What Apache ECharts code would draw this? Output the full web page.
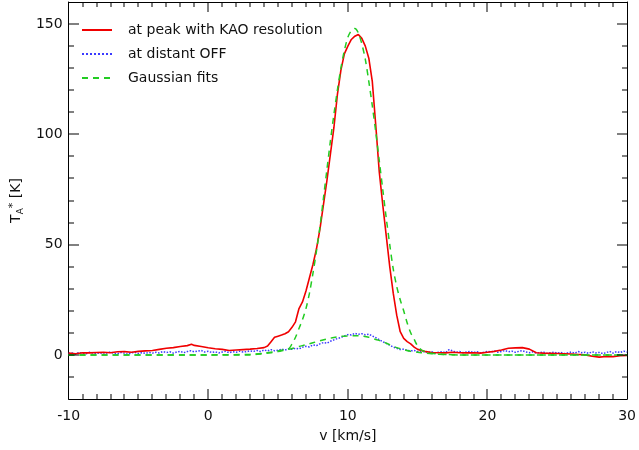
<!DOCTYPE html>
<html>
<head>
<meta charset="utf-8">
<script src="https://cdn.jsdelivr.net/npm/echarts@6/dist/echarts.min.js"></script>
<style>
  html, body { margin: 0; padding: 0; background: #fff; }
  #main { width: 639px; height: 450px; }
</style>
</head>
<body>
<div id="main"></div>
<script>
// spectrum at peak (KAO resolution)
var redV = [-10,-9.5,-9,-8.5,-8,-7.5,-7,-6.5,-6,-5.5,-5,-4.5,-4,-3.5,-3,-2.5,-2,-1.5,-1.2,-1,-0.5,0,0.5,1,1.5,2,2.5,3,3.5,4,4.25,4.5,4.75,5,5.25,5.5,5.75,6,6.25,6.5,6.75,7,7.25,7.5,7.75,8,8.25,8.5,8.75,9,9.25,9.5,9.75,10,10.25,10.5,10.75,11,11.25,11.5,11.75,12,12.25,12.5,12.75,13,13.25,13.5,13.75,14,14.25,14.5,14.75,15,15.5,16,16.5,17,17.5,18,18.5,19,19.5,20,20.5,21,21.5,22,22.5,23,23.5,24,24.5,25,25.5,26,26.5,27,27.5,28,28.5,29,29.5,30];
var redT = [0.8,0.5,1.0,0.9,1.1,1.2,1.0,1.4,1.5,1.2,1.6,1.8,2.0,2.5,3.0,3.3,3.8,4.2,4.8,4.3,3.8,3.2,2.8,2.5,2.0,2.2,2.4,2.6,2.9,3.3,4.0,6.0,8.0,8.5,9.0,9.6,10.5,12.5,15,21,24,29,35,41,48,57,68,79,91,103,118,129,136.5,140,143,144.5,145.3,143.5,140,134.5,124,104,83,68,54,40,28,18,10.5,7.5,6,5,3.5,2.5,1.6,1.1,1.0,0.9,1.2,1.0,0.9,1.0,0.8,1.2,1.6,2.2,3.0,3.2,3.3,2.6,1.0,0.8,0.7,0.6,0.5,0.4,0.2,0,-0.6,-1.0,-0.7,-0.8,-0.4,-0.3];

// distant OFF spectrum, channels every 0.25 km/s from -10
var offStart = -10, offStep = 0.25;
var offT = [0.6,0.9,0.4,1.1,0.7,0.5,1.2,0.8,0.6,1.0,0.4,0.9,1.3,0.7,0.5,1.1,0.8,0.3,0.9,1.2,0.6,1.0,0.7,1.1,0.8,
  1.2,0.9,1.5,1.1,1.4,0.8,1.3,1.6,1.0,1.5,1.9,1.4,1.7,2.0,1.3,1.6,1.1,1.4,0.9,1.3,1.6,1.0,1.4,1.2,1.7,1.3,1.5,1.8,
  1.6,2.0,1.5,2.2,1.8,2.4,1.9,2.1,2.6,2.2,2.8,2.5,
  3.0,2.7,3.5,3.9,3.6,4.5,4.2,5.0,5.6,5.3,6.2,6.8,
  7.4,7.9,8.6,9.2,9.0,9.8,9.3,9.6,9.1,9.4,8.6,7.8,
  6.9,6.0,5.2,4.4,3.5,3.0,2.4,2.6,2.1,1.8,2.0,1.5,
  1.3,1.6,1.1,1.4,0.9,1.2,1.5,1.0,2.4,1.8,1.2,1.5,1.0,1.3,1.6,1.1,1.4,0.9,1.2,1.6,
  1.3,1.8,1.2,1.5,2.0,1.4,1.7,1.2,1.6,1.9,1.3,1.0,1.4,0.8,1.1,1.3,0.7,1.0,1.2,0.8,
  1.1,0.6,0.9,1.3,0.8,1.5,1.0,1.2,0.7,1.4,0.9,1.1,0.6,1.0,1.6,0.8,1.5,1.1,1.7,1.3];

// gaussian fit to the peak spectrum
var fitPeakV = [-10,0,3,4,5,5.5,5.8,6,6.25,6.5,6.75,7,7.25,7.5,7.75,8,8.25,8.5,8.75,9,9.25,9.5,9.75,10,10.25,10.5,10.75,11,11.25,11.5,11.75,12,12.25,12.5,12.75,13,13.25,13.5,13.75,14,14.25,14.5,14.75,15,15.25,15.5,16,17,18,30];
var fitPeakT = [0,0,0.3,0.8,1.8,2.5,3,5,8,12,16,21,28,37,47,58,71,84,97,109,120,130,138,144,147,148,146,141,134,124,113,101,88,75,62,50,39,31,25,20,14.5,10,7,4,2.3,1.5,0.7,0.2,0,0];

// gaussian fit to the OFF spectrum
var fitOffV = [-10,0,3,3.5,4,4.5,5,5.5,6,6.5,7,7.5,8,8.5,9,9.5,10,10.5,11,11.5,12,12.5,13,13.5,14,14.5,15,15.5,16,17,18,30];
var fitOffT = [0,0,0,0.3,0.6,1.0,1.5,2.2,2.9,3.8,4.6,5.5,6.4,7.2,7.9,8.4,8.6,8.7,8.5,8.0,7.0,6.0,4.6,3.3,2.4,1.6,1.2,0.8,0.5,0.2,0,0];

var xTicks = [-10, 0, 10, 20, 30];
var yTicks = [0, 50, 100, 150];
var yTickVals = [-10, 0, 10, 20, 30, 40, 50, 60, 70, 80, 90, 100, 110, 120, 130, 140, 150];
var xTickVals = [-9,-8,-7,-6,-5,-4,-3,-2,-1,0,1,2,3,4,5,6,7,8,9,10,11,12,13,14,15,16,17,18,19,20,21,22,23,24,25,26,27,28,29];

function pairs(xs, ys) {
  return xs.map(function (x, i) { return [x, ys[i]]; });
}
var offData = offT.map(function (t, i) { return [offStart + i * offStep, t]; });

var font = 'DejaVu Sans';
var lineBlack = { onZero: false, lineStyle: { color: '#000', width: 1 } };

// tick marks drawn as 1px filled rects (axis 0 = x ticks, 1 = y ticks)
var tickData = xTickVals.map(function (v) { return [0, v]; })
  .concat(yTickVals.map(function (t) { return [1, t]; }));

function rect(x, y, w, h) {
  return { type: 'rect', shape: { x: x, y: y, width: w, height: h }, style: { fill: '#000' } };
}

var myChart = echarts.init(document.getElementById('main'));
var option = {
  backgroundColor: '#fff',
  animation: false,
  grid: { left: 65, right: 9, top: 2, bottom: 51 },
  legend: {
    orient: 'vertical',
    left: 81, top: 23, padding: 0,
    itemWidth: 30, itemHeight: 14, itemGap: 10,
    itemStyle: { opacity: 0 },
    textStyle: { fontFamily: font, fontSize: 14, color: '#111', padding: [0, 0, 0, 11] },
    data: ['at peak with KAO resolution', 'at distant OFF', 'Gaussian fits']
  },
  xAxis: [
    {
      type: 'value', min: xTicks[0], max: xTicks[xTicks.length - 1], interval: 10,
      axisLine: lineBlack, axisTick: { show: false }, splitLine: { show: false },
      axisLabel: { fontFamily: font, fontSize: 14, color: '#111', margin: 10 },
      name: 'v [km/s]', nameLocation: 'middle', nameGap: 30,
      nameTextStyle: { fontFamily: font, fontSize: 14, color: '#111' }
    },
    {
      type: 'value', position: 'top', min: -10, max: 30, interval: 10,
      axisLine: lineBlack, axisTick: { show: false }, splitLine: { show: false },
      axisLabel: { show: false }
    }
  ],
  yAxis: [
    {
      type: 'value', min: -20, max: 160, interval: 10,
      axisLine: lineBlack,
      axisTick: { show: false }, splitLine: { show: false },
      axisLabel: {
        fontFamily: font, fontSize: 14, color: '#111', margin: 6,
        formatter: function (v) { return yTicks.indexOf(v) >= 0 ? String(v) : ''; }
      },
      name: '{t|T}{s|A}{u|*}{t| [K]}', nameLocation: 'middle', nameGap: 40, nameRotate: 90,
      nameTextStyle: {
        fontFamily: font, fontSize: 14, color: '#111',
        rich: {
          t: { fontFamily: font, fontSize: 14, color: '#111' },
          s: { fontFamily: font, fontSize: 9, color: '#111', padding: [8, 0, 0, 0] },
          u: { fontFamily: font, fontSize: 11, color: '#111', padding: [0, 0, 6, 0] }
        }
      }
    },
    {
      type: 'value', position: 'right', min: -20, max: 160, interval: 10,
      axisLine: lineBlack,
      axisTick: { show: false }, splitLine: { show: false },
      axisLabel: { show: false }
    }
  ],
  series: [
    {
      name: 'at distant OFF', type: 'line', data: offData, showSymbol: false, symbol: 'none',
      lineStyle: { color: '#3a3aff', width: 1.5, type: 'dotted' }, itemStyle: { color: '#3a3aff' }, z: 2
    },
    {
      name: 'at peak with KAO resolution', type: 'line', data: pairs(redV, redT), showSymbol: false, symbol: 'none',
      lineStyle: { color: '#f00000', width: 1.6 }, itemStyle: { color: '#f00000' }, z: 3
    },
    {
      name: 'Gaussian fits', type: 'line', data: pairs(fitPeakV, fitPeakT), showSymbol: false, symbol: 'none', smooth: 0.3,
      lineStyle: { color: '#22cc22', width: 1.5, type: [6, 5] }, itemStyle: { color: '#22cc22' }, z: 4
    },
    {
      name: 'Gaussian fits', type: 'line', data: pairs(fitOffV, fitOffT), showSymbol: false, symbol: 'none', smooth: 0.3,
      lineStyle: { color: '#22cc22', width: 1.5, type: [6, 5] }, itemStyle: { color: '#22cc22' }, z: 4
    },
    {
      type: 'custom', xAxisIndex: 0, yAxisIndex: 0, silent: true, z: 5, clip: false,
      data: tickData,
      dimensions: ['kind', 'val'],
      encode: { x: -1, y: -1 },
      renderItem: function (params, api) {
        var kind = api.value(0);
        var val = api.value(1);
        if (kind === 0) {
          var len = (val % 10 === 0) ? 10 : 5;
          var b = api.coord([val, -20]);
          var t = api.coord([val, 160]);
          var x = Math.round(b[0]) - 0.5;
          return { type: 'group', children: [
            rect(x, Math.round(b[1]) - len, 1, len),
            rect(x, Math.round(t[1]), 1, len)
          ] };
        }
        var lenY = (val % 50 === 0) ? 10 : 5;
        var l = api.coord([-10, val]);
        var r = api.coord([30, val]);
        var y = Math.round(l[1]) - 0.5;
        return { type: 'group', children: [
          rect(Math.round(l[0]), y, lenY, 1),
          rect(Math.round(r[0]) - lenY, y, lenY, 1)
        ] };
      }
    }
  ]
};
myChart.setOption(option);
</script>
</body>
</html>
